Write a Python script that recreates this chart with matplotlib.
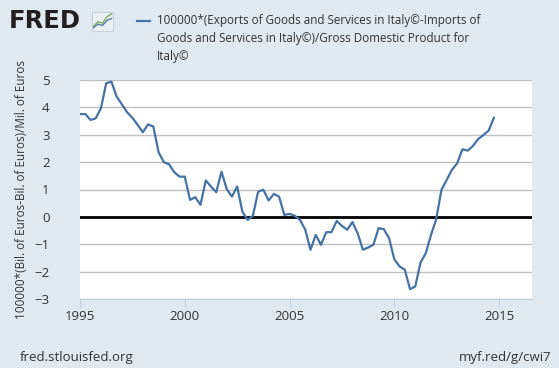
import numpy as np
import matplotlib
matplotlib.use("Agg")
import matplotlib.pyplot as plt

# quarterly values, 1995Q1 .. 2014Q4
years = np.arange(1995, 2015, 0.25)
values = [
    3.75, 3.76, 3.54, 3.60,
    3.97, 4.88, 4.94, 4.39,
    4.11, 3.82, 3.62, 3.36,
    3.09, 3.38, 3.30, 2.36,
    2.00, 1.92, 1.63, 1.47,
    1.47, 0.62, 0.72, 0.44,
    1.33, 1.11, 0.90, 1.65,
    1.02, 0.74, 1.11, 0.19,
    -0.11, 0.04, 0.92, 0.99,
    0.60, 0.84, 0.74, 0.07,
    0.11, 0.04, -0.11, -0.47,
    -1.20, -0.66, -1.02, -0.56,
    -0.56, -0.15, -0.33, -0.47,
    -0.19, -0.60, -1.20, -1.12,
    -1.02, -0.41, -0.45, -0.78,
    -1.55, -1.81, -1.93, -2.64,
    -2.54, -1.67, -1.33, -0.66,
    -0.08, 0.99, 1.35, 1.72,
    1.96, 2.47, 2.42, 2.59,
    2.84, 2.99, 3.15, 3.62,
]
xticks = [1995, 2000, 2005, 2010, 2015]
yticks = [-3, -2, -1, 0, 1, 2, 3, 4, 5]
series_label = ("100000*(Exports of Goods and Services in Italy©-Imports of\n"
                "Goods and Services in Italy©)/Gross Domestic Product for\n"
                "Italy©")
ylabel = "100000*(Bil. of Euros-Bil. of Euros)/Mil. of Euros"

bg = "#e1e9f0"
line_color = "#4572a7"
text_color = "#333333"
plt.rcParams["font.family"] = ["Open Sans", "DejaVu Sans"]

W, H = 559, 368
fig = plt.figure(figsize=(W / 100, H / 100), dpi=100, facecolor=bg)
ax = fig.add_axes([80 / W, 1 - 299 / H, (532 - 80) / W, (299 - 80) / H])
ax.set_facecolor("white")

ax.plot(years, values, color=line_color, lw=1.6, zorder=3)
ax.axhline(0, color="black", lw=2, zorder=2)

ax.set_xlim(1995, 2016.57)
ax.set_ylim(-3, 5)
ax.set_xticks(xticks)
ax.set_yticks(yticks)
ax.grid(axis="y", color="#c0c0c0", lw=1)
ax.set_axisbelow(True)
for s in ["top", "right", "left"]:
    ax.spines[s].set_visible(False)
ax.spines["bottom"].set_color("#c0d0e0")
ax.tick_params(axis="x", length=6, color="#c0d0e0", colors=text_color,
               labelsize=9.5, pad=2)
ax.tick_params(axis="y", length=0, colors=text_color, labelsize=9.5, pad=22)
ax.set_ylabel(ylabel, color=text_color, fontsize=8.5)
ax.yaxis.set_label_coords(-52 / 452, 0.5)

# legend
fig.add_artist(plt.Line2D([137 / W, 150 / W], [1 - 21 / H, 1 - 21 / H],
                          color=line_color, lw=1.6))
fig.text(157 / W, 1 - 14 / H, series_label, color=text_color, fontsize=8.4,
         va="top", ha="left", linespacing=1.5)

# FRED logo
fig.text(9 / W, 1 - 21 / H, "FRED", fontsize=17.5, fontweight="bold",
         family="DejaVu Sans", color="#231f20", va="center", ha="left")
icon = fig.add_axes([92 / W, 1 - 31 / H, 21 / W, 19 / H])
icon.set_facecolor("#e8eef2")
icon.plot([0, 1, 2, 3, 4], [0.5, 1.5, 1.2, 2.6, 3.2], color="#78a848", lw=0.9)
icon.plot([0, 1, 2, 3, 4], [0.2, 1.0, 0.7, 1.8, 2.2], color="#4572a7", lw=0.9)
icon.set_xlim(-0.3, 4.3)
icon.set_ylim(-0.5, 3.6)
icon.set_xticks([])
icon.set_yticks([])
for s in icon.spines.values():
    s.set_color("#c8d0d8")

fig.text(20 / W, 1 - 358 / H, "fred.stlouisfed.org", color=text_color,
         fontsize=9.5, va="center", ha="left")
fig.text(551 / W, 1 - 358 / H, "myf.red/g/cwi7", color=text_color,
         fontsize=9.5, va="center", ha="right")

fig.savefig("out.png", dpi=100, facecolor=bg)
